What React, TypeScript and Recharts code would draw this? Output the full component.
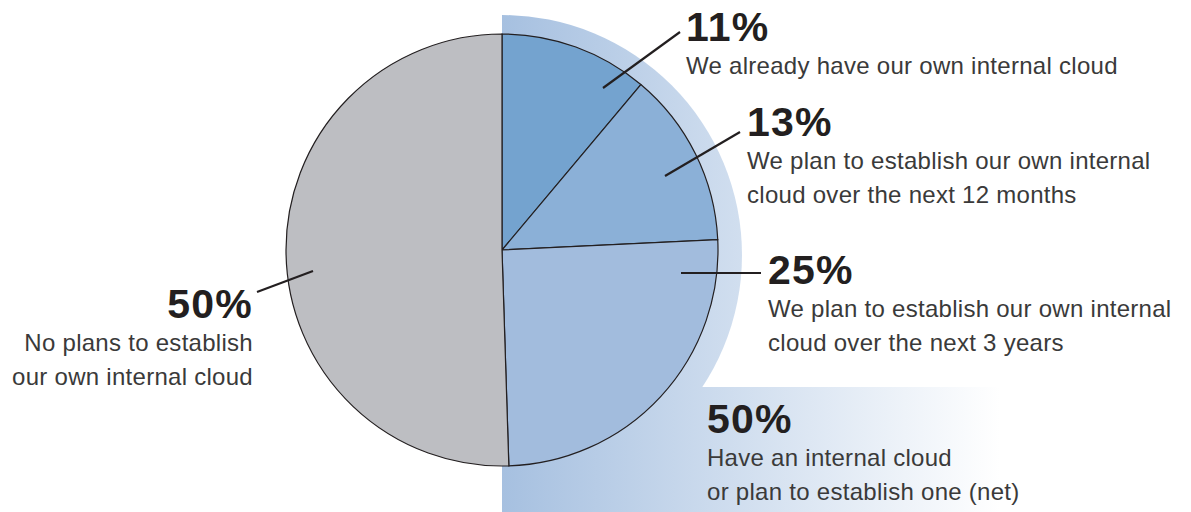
import { PieChart, Pie, Cell, Customized } from "recharts";

// the page keeps the browser's 8px body margin otherwise
document.body.style.margin = "0";

const shares = [11, 13, 25, 50];
const shareLabels = ["11%", "13%", "25%", "50%"];
const descriptions = [
    ["We already have our own internal cloud"],
    ["We plan to establish our own internal", "cloud over the next 12 months"],
    ["We plan to establish our own internal", "cloud over the next 3 years"],
    ["No plans to establish", "our own internal cloud"],
];
const netShare = 50;
const netLabel = "50%";
const netDescription = ["Have an internal cloud", "or plan to establish one (net)"];

const sliceColors = ["#74a3cf", "#8bb0d7", "#a2bcdd", "#bdbec2"];

const W = 1191;
const H = 512;
const FONT = "'Liberation Sans', Arial, sans-serif";
const INK = "#231f20";

const pieData = shares.map((v, i) => ({ name: descriptions[i].join(" "), value: v }));
const netData = [{ name: "net", value: netShare }];

// where each annotation sits: text origin, anchor, leader line
const labelLayout = [
    { x: 686, y: 41, anchor: "start", line: [603, 88, 680, 32] },
    { x: 747, y: 136, anchor: "start", line: [665, 176, 740, 132] },
    { x: 768, y: 284, anchor: "start", line: [681, 273, 761, 273] },
    { x: 253, y: 318, anchor: "end", line: [257, 292, 313, 271] },
];
const netLayout = { x: 707, y: 433 };
const bandTop = 387;

function Annotation({ x, y, anchor, pct, lines }: any) {
    return (
        <g fontFamily={FONT}>
            <text
                x={x}
                y={y}
                textAnchor={anchor}
                fontSize={41}
                fontWeight={700}
                letterSpacing={1.2}
                fill={INK}
            >
                {pct}
            </text>
            {lines.map((t: string, i: number) => (
                <text
                    key={i}
                    x={x}
                    y={y + 33 + i * 34}
                    textAnchor={anchor}
                    fontSize={24}
                    letterSpacing={0.28}
                    fill="#3a3a3a"
                >
                    {t}
                </text>
            ))}
        </g>
    );
}

function BandRect() {
    return <rect x={502} y={bandTop} width={W - 502} height={H - bandTop} fill="url(#bandFill)" />;
}

function renderShareLabel(props: any) {
    const i = props.index;
    const l = labelLayout[i];
    return (
        <g key={i}>
            <line x1={l.line[0]} y1={l.line[1]} x2={l.line[2]} y2={l.line[3]} stroke={INK} strokeWidth={2.2} />
            <Annotation x={l.x} y={l.y} anchor={l.anchor} pct={shareLabels[i]} lines={descriptions[i]} />
        </g>
    );
}

function renderNetLabel() {
    return (
        <Annotation x={netLayout.x} y={netLayout.y} anchor="start" pct={netLabel} lines={netDescription} />
    );
}

export default function App() {
    return (
        <div style={{ width: W, height: H, background: "#fff" }}>
            <PieChart width={W} height={H} margin={{ top: 0, right: 0, bottom: 0, left: 0 }}>
                <defs>
                    <linearGradient id="bandFill" gradientUnits="userSpaceOnUse" x1={502} y1={0} x2={1000} y2={0}>
                        <stop offset="0" stopColor="#a6c0e0" />
                        <stop offset="1" stopColor="#ffffff" />
                    </linearGradient>
                </defs>
                <Customized component={BandRect} />
                <Pie
                    data={netData}
                    dataKey="value"
                    cx={502}
                    cy={255}
                    outerRadius={240}
                    startAngle={90}
                    endAngle={-90}
                    fill="url(#bandFill)"
                    stroke="none"
                    label={renderNetLabel}
                    labelLine={false}
                    isAnimationActive={false}
                />
                <Pie
                    data={pieData}
                    dataKey="value"
                    cx={502}
                    cy={250}
                    outerRadius={216}
                    startAngle={90}
                    endAngle={-270}
                    stroke={INK}
                    strokeWidth={1.2}
                    label={renderShareLabel}
                    labelLine={false}
                    isAnimationActive={false}
                >
                    {pieData.map((d, i) => (
                        <Cell key={d.name} fill={sliceColors[i]} />
                    ))}
                </Pie>
            </PieChart>
        </div>
    );
}
